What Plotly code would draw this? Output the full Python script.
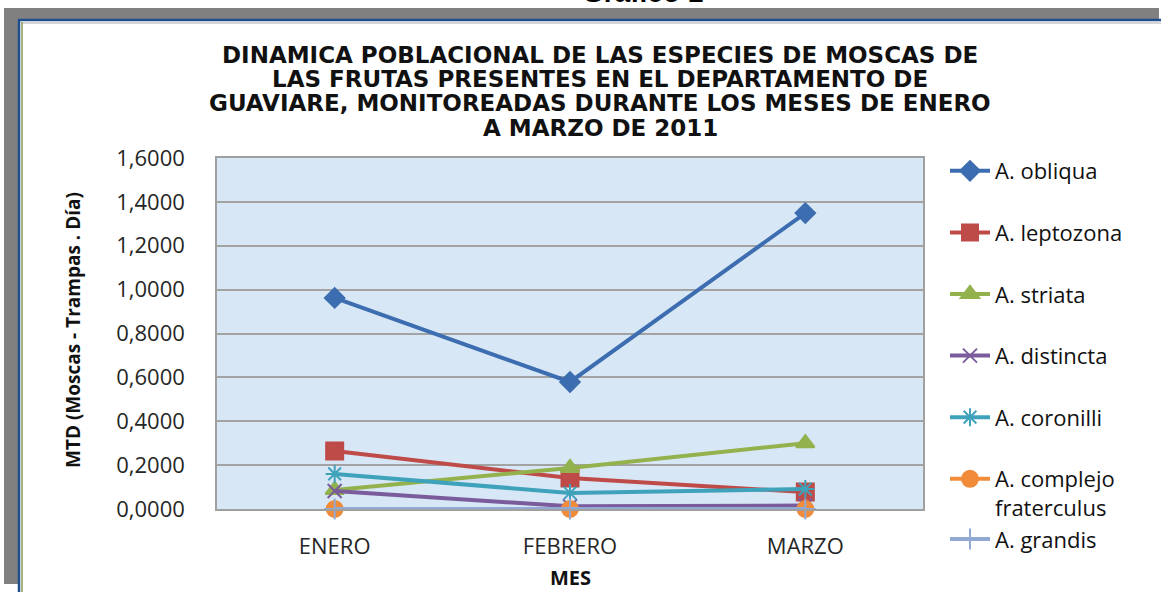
import plotly.graph_objects as go

W, H = 1161, 592
PL, PR, PT, PB = 217, 923, 158, 509  # plot area pixel bounds

meses = ["ENERO", "FEBRERO", "MARZO"]
obliqua = [0.962, 0.579, 1.349]
leptozona = [0.264, 0.141, 0.077]
striata = [0.087, 0.187, 0.300]
distincta = [0.082, 0.012, 0.016]
coronilli = [0.160, 0.073, 0.091]
fraterculus = [0.0, 0.0, 0.0]
grandis = [0.0, 0.0, 0.0]

series = [
    ("A. obliqua", obliqua, "#3c6db0", "diamond", 15),
    ("A. leptozona", leptozona, "#be4b48", "square", 17),
    ("A. striata", striata, "#93b24e", "triangle-up", 16),
    ("A. distincta", distincta, "#7a5b9c", "x-thin-open", 14),
    ("A. coronilli", coronilli, "#3fa2bb", "asterisk-open", 15),
    ("A. complejo<br>fraterculus", fraterculus, "#f08c3a", "circle", 16),
    ("A. grandis", grandis, "#92a9d4", "cross-thin-open", 15),
]
groups = ["g0", "g1", "g2", "g3", "g4", "g5", "g5"]

title_lines = [
    "DINAMICA POBLACIONAL DE LAS ESPECIES DE MOSCAS DE",
    "LAS FRUTAS PRESENTES EN EL DEPARTAMENTO DE",
    "GUAVIARE, MONITOREADAS DURANTE LOS MESES DE ENERO",
    "A MARZO DE 2011",
]
title_y = [55, 79, 103, 128]


def px(x):
    return (x - PL) / (PR - PL)


def py(y):
    return (PB - y) / (PB - PT)


fig = go.Figure()
for (name, vals, col, sym, sz), grp in zip(series, groups):
    fig.add_trace(go.Scatter(
        x=meses, y=vals, name=name, mode="lines+markers",
        line=dict(color=col, width=4),
        marker=dict(symbol=sym, size=sz, color=col, line=dict(color=col, width=2)),
        legendgroup=grp, cliponaxis=False,
    ))

fig.update_layout(
    width=W, height=H,
    margin=dict(l=PL, r=W - PR, t=PT, b=H - PB, pad=0),
    paper_bgcolor="white",
    plot_bgcolor="#d8e7f5",
    separators=",.",
    font=dict(family="Open Sans, sans-serif", size=22, color="#262626"),
    showlegend=True,
    legend=dict(
        x=px(945), y=py(150), xanchor="left", yanchor="top",
        bgcolor="rgba(0,0,0,0)", font=dict(size=22, color="#111111"),
        tracegroupgap=30, traceorder="grouped", valign="top",
        itemwidth=40, maxheight=560,
    ),
    xaxis=dict(
        type="category", range=[-0.5, 2.5], showgrid=False,
        showline=True, linecolor="#a0a0a0", linewidth=1.5, mirror=True,
        ticks="", ticklabelstandoff=17, tickfont=dict(size=22, color="#262626"),
    ),
    yaxis=dict(
        range=[0, 1.6], dtick=0.2, tickformat=".4f",
        showgrid=True, gridcolor="#a3a3a3", gridwidth=1.5,
        showline=True, linecolor="#a0a0a0", linewidth=1.5, mirror=True,
        zeroline=False, ticks="", ticklabelstandoff=26,
        tickfont=dict(size=22, color="#262626"),
    ),
)

shapes = [
    dict(type="rect", xref="paper", yref="paper", x0=px(4), x1=px(1159), y0=py(8), y1=py(19),
         fillcolor="#808080", line=dict(width=0), layer="below"),
    dict(type="rect", xref="paper", yref="paper", x0=px(4), x1=px(18), y0=py(8), y1=py(584),
         fillcolor="#808080", line=dict(width=0), layer="below"),
    dict(type="line", xref="paper", yref="paper", x0=px(18), x1=px(1161), y0=py(20), y1=py(20),
         line=dict(color="#1f4e8c", width=2.5)),
    dict(type="line", xref="paper", yref="paper", x0=px(19), x1=px(19), y0=py(20), y1=py(592),
         line=dict(color="#1f4e8c", width=2.5)),
    dict(type="line", xref="paper", yref="paper", x0=px(21), x1=px(1161), y0=py(23), y1=py(23),
         line=dict(color="#c8c8c8", width=1.5)),
    dict(type="line", xref="paper", yref="paper", x0=px(22), x1=px(22), y0=py(22), y1=py(592),
         line=dict(color="#8a9a50", width=1.5)),
]
fig.update_layout(shapes=shapes)

for line, yy in zip(title_lines, title_y):
    fig.add_annotation(text="<b>%s</b>" % line, xref="paper", yref="paper",
                       x=px(600), y=py(yy), xanchor="center", yanchor="middle",
                       showarrow=False,
                       font=dict(family="DejaVu Sans, sans-serif", size=23, color="#111111"))

fig.add_annotation(text="<b>Gráfico 1</b>", xref="paper", yref="paper",
                   x=px(642), y=py(-7), xanchor="center", yanchor="middle",
                   showarrow=False,
                   font=dict(family="Liberation Sans Narrow, Liberation Sans, Arial", size=28, color="#000000"))
fig.add_annotation(text="<b>MES</b>", xref="paper", yref="paper",
                   x=px(570), y=py(577), xanchor="center", yanchor="middle",
                   showarrow=False, font=dict(size=20, color="#111111"))
fig.add_annotation(text="<b>MTD (Moscas - Trampas . Día)</b>", xref="paper", yref="paper",
                   x=px(73), y=py(330), xanchor="center", yanchor="middle", textangle=-90,
                   showarrow=False, font=dict(size=19, color="#111111"))

fig.write_html("out.html", config={"displayModeBar": False},
               post_script="document.body.style.margin='0px';document.body.style.overflow='hidden';")
